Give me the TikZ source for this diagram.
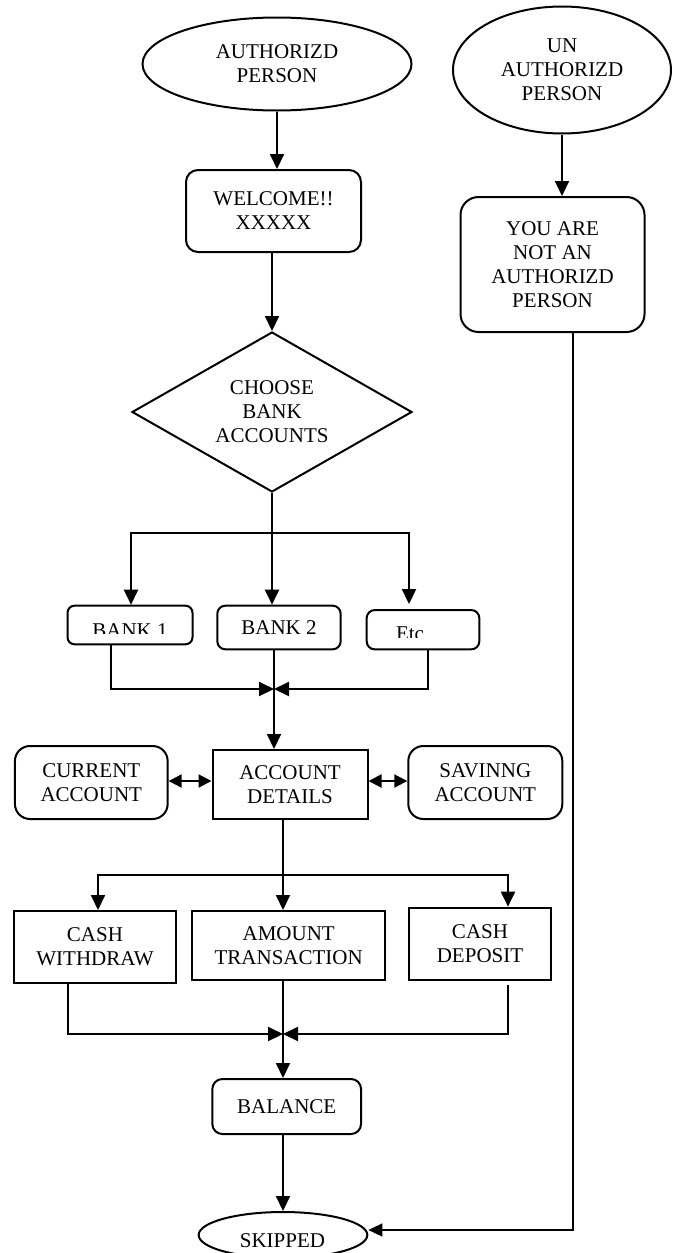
\documentclass[tikz,border=0pt]{standalone}
\usepackage{fontspec}
\setmainfont{Liberation Serif}
\usetikzlibrary{shapes.geometric,arrows.meta}
\begin{document}
\begin{tikzpicture}[x=1pt,y=-1pt,
  every node/.style={font=\fontsize{21}{24}\selectfont, align=center, inner sep=0pt, line width=2pt},
  ln/.style={line width=2pt},
  arr/.style={line width=2pt,-{Triangle[length=15pt,width=14pt]}},
  darr/.style={line width=2pt,{Triangle[length=13pt,width=13pt]}-{Triangle[length=13pt,width=13pt]}},
  thinarr/.style={line width=1.6pt,-{Triangle[length=14pt,width=13pt]}},
  oval/.style={draw,ellipse},
  rbox/.style={draw,rectangle,rounded corners=#1}, rbox/.default=12pt,
  sbox/.style={draw,rectangle}]
\fill[white] (0,0) rectangle (677,1253);
\useasboundingbox (0,0) rectangle (677,1253);

% nodes
\node[oval, minimum width=269pt, minimum height=93pt] (authA) at (277,64) {AUTHORIZD\\PERSON};
\node[oval, minimum width=218pt, minimum height=127pt] (unA) at (562,70) {UN\\AUTHORIZD\\PERSON};
\node[rbox=12pt, minimum width=175pt, minimum height=82pt] (welcome) at (273.5,211) {WELCOME!!\\XXXXX};
\node[rbox=18pt, minimum width=184pt, minimum height=135pt] (notauth) at (552.5,264.5) {YOU ARE\\NOT AN\\AUTHORIZD\\PERSON};
\node[draw, diamond, shape aspect=1.75, minimum width=280pt, minimum height=160pt] (choose) at (272,412) {CHOOSE\\BANK\\ACCOUNTS};

\node[rbox=7pt, minimum width=125pt, minimum height=38.6pt] (bank1) at (130,625) {};
\begin{scope}
  \clip (67,606) rectangle (193,633);
  \node[anchor=base] (bank1txt) at (130,637) {BANK 1};
\end{scope}
\node[rbox=8pt, minimum width=123.4pt, minimum height=43.6pt] (bank2) at (279,627.5) {BANK 2};
\node[rbox=8pt, minimum width=112.6pt, minimum height=39.3pt] (etc) at (423,629.7) {};
\begin{scope}
  \clip (367,611) rectangle (479,637);
  \node[anchor=base] (etctxt) at (410,640.6) {Etc};
\end{scope}

\node[sbox, minimum width=155pt, minimum height=69pt] (AD) at (290,784.5) {ACCOUNT\\DETAILS};
\node[rbox=15pt, minimum width=152.7pt, minimum height=73pt] (current) at (91.3,782.5) {CURRENT\\ACCOUNT};
\node[rbox=15pt, minimum width=154pt, minimum height=73pt] (saving) at (485.3,782.5) {SAVINNG\\ACCOUNT};

\node[sbox, minimum width=162.7pt, minimum height=72pt] (cashw) at (95,947) {CASH\\WITHDRAW};
\node[sbox, minimum width=192.7pt, minimum height=69pt] (amount) at (288.7,945.5) {AMOUNT\\TRANSACTION};
\node[sbox, minimum width=141.7pt, minimum height=72.3pt] (cashd) at (480,943.8) {CASH\\DEPOSIT};

\node[rbox=10pt, minimum width=148.7pt, minimum height=55pt] (balance) at (286.7,1106.5) {BALANCE};
\node[oval, minimum width=168.7pt, minimum height=46pt] (skipped) at (283,1235) {};
\node[anchor=base] (skippedtxt) at (282.5,1247) {SKIPPED};

% connectors
\draw[arr] (authA.south) -- (authA.south |- welcome.north);
\draw[arr] (welcome.south -| choose.north) -- (choose.north);
\draw[arr] (unA.south) -- (unA.south |- notauth.north);

\coordinate (busL) at (131,533);
\coordinate (busR) at (409,533);
\draw[ln] (choose.south) -- (choose.south |- busL);
\draw[arr] (choose.south |- busL) -- (busL) -- (busL |- bank1.north);
\draw[arr] (choose.south |- busL) -- (busR) -- ([yshift=5pt]busR |- etc.north);
\draw[arr] (choose.south |- busL) -- (choose.south |- bank2.north);

\coordinate (m1) at (274,689);
\draw[arr] ([xshift=-19pt]bank1.south) |- (m1);
\draw[arr] ([xshift=5pt]etc.south) |- (m1);
\draw[arr] (bank2.south -| m1) -- (m1 |- AD.north);

\coordinate (dA) at (0,781);
\draw[darr] (current.east |- dA) -- (AD.west |- dA);
\draw[darr] (AD.east |- dA) -- (saving.west |- dA);

\coordinate (c2) at (283,875);
\coordinate (b2L) at (98,875);
\coordinate (b2R) at (508,875);
\draw[arr] (c2 |- AD.south) -- (c2 |- amount.north);
\draw[arr] (c2) -- (b2L) -- (b2L |- cashw.north);
\draw[arr] (c2) -- (b2R) -- (b2R |- cashd.north);

\coordinate (m2) at (283,1034);
\draw[arr] ([xshift=-27pt]cashw.south) |- (m2);
\draw[arr] ([xshift=28pt,yshift=-3.7pt]cashd.south) |- (m2);
\draw[arr] (m2 |- amount.south) -- (m2 |- balance.north);
\draw[arr] (m2 |- balance.south) -- (m2 |- skipped.north);

\coordinate (rc) at (573,1230);
\draw[thinarr] (rc |- notauth.south) -- (rc) -- (rc -| skipped.east);
\end{tikzpicture}
\end{document}
